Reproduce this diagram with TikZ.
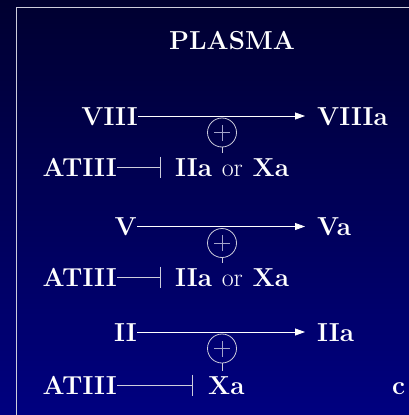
\documentclass[tikz,border=0pt]{standalone}
\usetikzlibrary{arrows.meta}

\definecolor{navytop}{RGB}{0,0,48}
\definecolor{navybot}{RGB}{0,0,128}
\definecolor{rulegray}{RGB}{205,205,220}

\tikzset{
  fac/.style={text=white, font=\fontsize{26}{30}\selectfont\bfseries,
    inner sep=0pt, text height=18pt, text depth=0pt},
  conv/.style={draw=white, line width=0.8pt, -{Triangle[length=10pt,width=7pt]}, shorten >=12pt},
  inhib/.style={draw=rulegray, line width=0.8pt, -{Bar[width=21pt,line width=0.8pt]}},
  pluscirc/.style={circle, draw=rulegray, line width=0.8pt, minimum size=29pt, inner sep=0pt},
  plusline/.style={draw=rulegray!80!navybot, line width=0.6pt},
  stem/.style={draw=rulegray, line width=0.8pt, shorten >=5pt}
}

\begin{document}
\begin{tikzpicture}[x=1pt, y=-1pt]
    % Background and frame
    \shade[top color=navytop, bottom color=navybot] (0,0) rectangle (409,415);
    \useasboundingbox (0,0) rectangle (409,415);
    \draw[rulegray, line width=0.8pt] (16,415) -- (16,7) -- (409,7);

    % Title
    \node[fac] (plasma) at (232,40) {PLASMA};

    % First step: VIII -> VIIIa
    \node[fac, anchor=east] (viii) at (138,116) {VIII};
    \node[fac, anchor=west] (viiia) at (317,116) {VIIIa};
    \draw[conv] (viii) -- (viiia);
    \node[pluscirc] (plusA) at (222,132.5) {};
    \draw[plusline] ([xshift=-8pt]plusA.center) -- ([xshift=8pt]plusA.center);
    \draw[plusline] ([yshift=-8pt]plusA.center) -- ([yshift=8pt]plusA.center);
    \node[fac, anchor=east] (atiiiA) at (117,167) {ATIII};
    \node[fac, anchor=west] (tgtA) at (175,167) {IIa {\mdseries or} Xa};
    \draw[inhib] (atiiiA.east) -- ([xshift=-14pt]tgtA.west);
    \draw[stem] (plusA.south) -- (plusA.south |- tgtA.north);

    % Second step: V -> Va
    \node[fac, anchor=east] (v) at (137,226.5) {V};
    \node[fac, anchor=west] (va) at (317,226.5) {Va};
    \draw[conv] (v) -- (va);
    \node[pluscirc] (plusB) at (222,243) {};
    \draw[plusline] ([xshift=-8pt]plusB.center) -- ([xshift=8pt]plusB.center);
    \draw[plusline] ([yshift=-8pt]plusB.center) -- ([yshift=8pt]plusB.center);
    \node[fac, anchor=east] (atiiiB) at (117,277) {ATIII};
    \node[fac, anchor=west] (tgtB) at (175,277) {IIa {\mdseries or} Xa};
    \draw[inhib] (atiiiB.east) -- ([xshift=-14pt]tgtB.west);
    \draw[stem] (plusB.south) -- (plusB.south |- tgtB.north);

    % Third step: II -> IIa
    \node[fac, anchor=east] (ii) at (137,332) {II};
    \node[fac, anchor=west] (iia) at (317,332) {IIa};
    \draw[conv] (ii) -- (iia);
    \node[pluscirc] (plusC) at (222,348.5) {};
    \draw[plusline] ([xshift=-8pt]plusC.center) -- ([xshift=8pt]plusC.center);
    \draw[plusline] ([yshift=-8pt]plusC.center) -- ([yshift=8pt]plusC.center);
    \node[fac, anchor=east] (atiiiC) at (117,385) {ATIII};
    \node[fac, anchor=west] (tgtC) at (208,385) {Xa};
    \draw[inhib] (atiiiC.east) -- ([xshift=-15pt]tgtC.west);
    \draw[stem] (plusC.south) -- (plusC.south |- tgtC.north);

    % Panel letter
    \node[fac, anchor=west] (panel) at (392,385) {c};
\end{tikzpicture}
\end{document}
